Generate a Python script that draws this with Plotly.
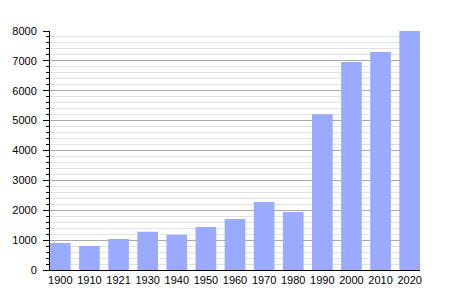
import plotly.graph_objects as go

years = ["1900", "1910", "1921", "1930", "1940", "1950", "1960", "1970", "1980", "1990", "2000", "2010", "2020"]
population = [905, 805, 1040, 1280, 1180, 1440, 1710, 2275, 1945, 5210, 6960, 7295, 8000]
y_ticks = [0, 1000, 2000, 3000, 4000, 5000, 6000, 7000, 8000]

gap = 0.29
fig = go.Figure(go.Bar(
    x=years, y=population,
    marker=dict(color="#99AAFF", line=dict(width=0)),
))

fig.update_layout(
    width=450, height=300,
    margin=dict(l=50, r=30, t=31, b=30),
    paper_bgcolor="white", plot_bgcolor="white",
    bargap=gap,
    showlegend=False,
    font=dict(family="Liberation Sans, Arial, sans-serif", size=11, color="black"),
)
fig.update_xaxes(
    type="category",
    range=[-0.5 + gap / 2, len(years) - 0.5 - gap / 2],
    showline=True, linecolor="black", linewidth=1,
    ticks="", showgrid=False,
    tickfont=dict(size=11),
)
fig.update_yaxes(
    range=[0, 8000],
    tickvals=y_ticks,
    ticks="outside", ticklen=6, tickcolor="black", tickwidth=1,
    ticklabelstandoff=4,
    showline=True, linecolor="black", linewidth=1,
    showgrid=True, gridcolor="#aaaaaa", gridwidth=1,
    zeroline=False,
    minor=dict(dtick=200, ticks="outside", ticklen=3, tickcolor="black",
               showgrid=True, gridcolor="#e2e2e2", gridwidth=1),
    tickfont=dict(size=11),
)

fig.write_html("out.html")
